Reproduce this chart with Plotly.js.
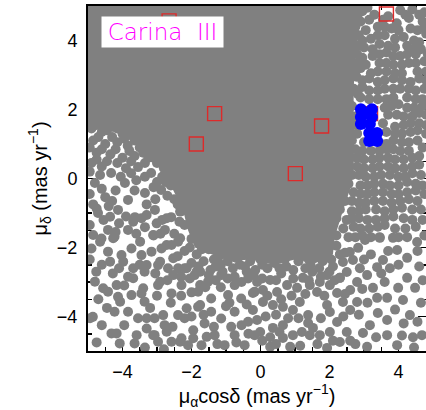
<!DOCTYPE html>
<html>
<head>
<meta charset="utf-8">
<script src="https://cdn.plot.ly/plotly-3.0.1.min.js"></script>
<style>html,body{margin:0;padding:0;background:#fff}</style>
</head>
<body>
<div id="chart" style="width:426px;height:410px"></div>
<script>
// Proper-motion plane around Carina III (mas/yr)

// Outline of the saturated field-star core, where markers overlap completely
const coreX = [-5.2, 3.0, 2.95, 2.85, 2.75, 2.7, 2.7, 2.72, 2.7, 2.6, 2.4, 2.15, 2.1, 1.6, 1.0, 0.4, -0.3, -0.9, -1.4, -1.9, -2.1, -2.25, -2.6, -3.0, -3.5, -4.2, -5.2];
const coreY = [5.2, 5.2, 4.7, 4.3, 3.45, 2.6, 2.0, 1.4, 0.25, -0.3, -0.9, -1.7, -2.2, -2.45, -2.35, -2.5, -2.35, -2.4, -2.2, -2.0, -1.5, -0.9, -0.2, 0.4, 0.95, 1.35, 1.5];

// Field stars east of the core
const fieldEast = [
  [2.95,4.85],[3.3,4.75],[4.05,4.88],[4.4,4.9],[4.75,4.82],
  [2.9,4.55],[3.15,4.6],[3.55,4.6],[3.95,4.5],[4.3,4.65],[4.7,4.55],
  [3.05,4.3],[3.4,4.4],[3.8,4.35],[4.55,4.3],
  [2.85,4.15],[3.2,4.05],[3.6,4.15],[4.15,4.1],[4.45,4.0],[4.8,4.2],
  [3.0,3.8],[3.45,3.9],[3.9,3.8],[4.25,3.85],[4.65,3.75],
  [2.8,3.6],[3.25,3.55],[3.65,3.65],[4.05,3.55],[4.5,3.6],
  [3.05,3.3],[3.45,3.35],[3.85,3.3],[4.3,3.35],[4.75,3.4],
  [2.75,3.1],[3.2,3.05],[3.65,3.1],[4.1,3.05],[4.55,3.1],
  [2.95,2.85],[3.4,2.8],[3.85,2.9],[4.35,2.8],[4.8,2.85],
  [2.7,2.6],[3.15,2.55],[3.6,2.6],[4.05,2.6],[4.5,2.55],
  [2.9,2.35],[3.4,2.3],[3.85,2.35],[4.25,2.35],[4.7,2.3],
  [2.65,2.1],[3.6,2.05],[4.0,2.15],[4.45,2.05],
  [2.75,1.8],[3.7,1.85],[4.15,1.8],[4.6,1.9],
  [2.7,1.55],[3.55,1.6],[3.9,1.5],[4.35,1.6],[4.8,1.55],
  [2.8,1.3],[3.65,1.35],[4.1,1.3],[4.55,1.4],
  [2.65,1.1],[3.0,1.05],[3.5,1.0],[3.85,1.1],[4.3,1.05],
  [2.75,0.85],[3.2,0.8],[3.65,0.85],[4.05,0.8],[4.7,0.9],
  [2.6,0.6],[3.0,0.55],[3.45,0.6],[3.9,0.55],[4.4,0.6],
  [2.8,0.35],[3.25,0.3],[3.7,0.35],[4.15,0.3],[4.6,0.4],
  [2.65,0.1],[3.05,0.05],[3.5,0.1],[4.0,0.05],[4.4,0.15],
  [2.55,-0.15],[2.9,-0.2],[3.3,-0.15],[3.75,-0.2],[4.25,-0.1],[4.7,-0.2],
  [2.7,-0.4],[3.1,-0.45],[3.55,-0.4],[4.0,-0.45],[4.5,-0.35],
  [2.45,-0.65],[2.85,-0.7],[3.3,-0.65],[3.8,-0.7],[4.3,-0.6],
  [2.3,-0.9],[2.65,-0.95],[3.05,-0.9],[3.6,-0.95],[4.1,-0.85],[4.65,-0.9],
  [2.2,-1.15],[2.5,-1.2],[2.85,-1.15],[3.35,-1.2],[3.85,-1.1],[4.4,-1.2],
  [2.05,-1.4],[2.4,-1.45],[2.7,-1.4],[3.15,-1.45],[3.6,-1.35],[4.2,-1.45],
  [2.2,-1.65],[2.55,-1.7],[2.95,-1.65],[3.45,-1.7],[3.84,-1.72],[4.25,-1.7],[4.54,-1.84],
  [3.1,4.95],[3.7,4.7],[4.2,4.75],[4.6,4.75],[2.75,4.4],[3.6,4.4],[4.0,4.3],[4.35,4.35],[4.75,4.4],
  [3.4,4.15],[3.9,4.05],[2.95,4.0],[4.6,3.95],[3.25,3.75],[3.7,3.85],[4.45,3.75],[4.85,3.6],
  [2.95,3.5],[3.45,3.6],[3.85,3.55],[4.25,3.6],[3.65,3.35],[4.1,3.3],[4.5,3.35],[2.9,3.2],
  [3.4,3.1],[3.9,3.05],[4.8,3.1],[3.15,2.9],[3.6,2.85],[4.1,2.85],[4.6,2.9],[2.95,2.65],
  [3.4,2.55],[3.85,2.6],[4.3,2.6],[4.75,2.6],[3.15,2.3],[3.65,2.3],[4.5,2.3],[3.8,2.1],
  [4.25,2.05],[4.7,2.1],[3.95,1.85],[4.4,1.8],[4.8,1.85],[4.15,1.55],[4.6,1.6],[3.9,1.3],
  [4.35,1.35],[4.8,1.3],[3.65,1.0],[4.1,1.05],[4.55,1.1],[2.95,0.8],[3.45,0.8],[3.85,0.85],
  [4.3,0.8],[2.8,0.6],[3.25,0.55],[3.7,0.6],[4.15,0.55],[4.6,0.65],[3.0,0.3],[3.45,0.35],
  [3.9,0.3],[4.4,0.35],[2.85,0.1],[3.3,0.05],[3.75,0.1],[4.2,0.05],[4.65,0.1],[3.1,-0.2],
  [3.55,-0.15],[4.0,-0.2],[4.5,-0.15],[2.9,-0.45],[3.3,-0.4],[3.8,-0.45],[4.25,-0.4],[4.75,-0.45],
  [2.65,-0.65],[3.05,-0.7],[3.55,-0.65],[4.05,-0.65],[4.55,-0.65],[2.85,-0.95],[3.35,-0.9],
  [3.85,-0.9],[4.4,-0.9],[2.65,-1.15],[3.1,-1.2],[3.6,-1.15],[4.15,-1.15],[4.7,-1.2],[2.9,-1.45],
  [3.4,-1.4],[3.9,-1.45],[4.5,-1.4],[2.75,-1.7],[3.2,-1.7],[4.0,-1.7],[4.75,-1.65],
  [2.85,3.85],[2.8,3.35],[2.78,2.95],[2.82,2.45]
];

// Field stars west of the core
const fieldWest = [
  [-4.9,1.45],[-4.6,1.35],[-4.3,1.5],[-4.0,1.3],[-3.7,1.45],[-3.4,1.25],[-4.85,1.1],[-4.5,1.0],
  [-4.15,1.05],[-3.85,0.95],[-3.5,0.9],[-3.2,0.85],[-4.75,0.75],[-4.35,0.7],[-4.0,0.6],[-3.65,0.65],
  [-3.25,0.6],[-3.0,0.45],[-2.95,0.7],
  [-4.9,0.45],[-4.6,0.35],[-4.33,0.16],[-3.9,0.3],[-3.55,0.33],[-3.17,0.16],[-2.85,0.05],[-2.7,0.25],
  [-2.5,0.1],[-4.8,-0.13],[-3.93,-0.13],[-3.6,-0.05],[-2.6,-0.2],[-4.5,-0.54],[-4.2,-0.35],[-3.84,-0.62],
  [-3.35,-0.42],[-2.88,-0.33],[-2.5,-0.6],[-2.3,-0.45],[-2.15,-0.7],
  [-4.71,-1.0],[-4.13,-0.91],[-3.64,-1.12],[-3.06,-0.91],[-2.59,-1.12],[-4.42,-1.49],[-3.84,-1.49],
  [-3.35,-1.41],[-2.77,-1.49],[-4.85,-0.75],[-4.4,-0.8],[-3.3,-0.75],[-2.3,-0.95],[-2.2,-1.35],
  [-2.5,-1.6],[-4.95,-1.35],[-3.1,-1.65],[-4.1,-1.3],[-1.95,-1.1],[-1.85,-1.45],[-2.0,-1.75],[-1.7,-1.95],
  [-4.75,-0.87],[-4.36,-1.11],[-3.69,-1.25],[-3.3,-1.06],[-3.01,-1.3],[-2.72,-1.15],[-2.33,-0.96],
  [-4.75,1.55],[-4.45,1.4],[-4.15,1.45],[-3.85,1.3],[-4.7,1.2],[-4.3,1.2],[-3.95,1.15],[-3.65,1.1],
  [-3.3,1.0],[-4.95,0.9],[-4.6,0.85],[-4.2,0.85],[-3.8,0.8],[-3.4,0.75],[-3.1,0.6],[-4.75,0.55],
  [-4.45,0.5],[-4.15,0.45],[-3.75,0.5],[-3.35,0.45],[-2.8,0.3],[-4.95,0.2],[-4.65,0.1],[-4.05,0.05],
  [-3.75,0.15],[-3.35,0.05],[-3.0,-0.1],[-2.75,-0.1],[-4.95,-0.45],[-4.6,-0.3],[-4.3,-0.65],
  [-3.65,-0.35],[-3.1,-0.25],[-3.05,-0.6],[-2.7,-0.5],[-2.4,-0.75],[-4.55,-1.2],[-3.9,-1.1],
  [-3.45,-1.15],[-2.85,-1.2],[-2.35,-1.25],[-4.2,-1.55],[-3.6,-1.6],[-2.9,-1.6]
];

// Field stars south of the core
const fieldSouth = [
  [-4.61,-1.74],[-4.23,-1.69],[-4.9,-2.03],[-4.42,-2.12],[-4.03,-2.22],[-3.74,-2.03],[-3.45,-2.22],
  [-3.16,-2.12],[-2.87,-2.03],[-2.58,-1.93],[-2.39,-1.83],[-4.76,-2.7],[-4.28,-2.75],[-3.84,-2.85],
  [-3.36,-2.7],[-2.97,-2.51],[-2.68,-2.6],[-2.39,-2.6],[-4.42,-3.28],[-4.13,-3.43],[-3.74,-3.38],
  [-3.45,-3.33],[-3.36,-3.57],[-2.97,-3.09],[-2.58,-3.33],[-2.29,-3.09],[-4.86,-4.01],[-4.23,-3.86],
  [-3.84,-3.86],[-3.55,-4.05],[-3.07,-4.05],[-2.78,-4.25],[-2.39,-3.96],[-2.2,-4.05],[-4.32,-4.49],
  [-4.08,-4.78],[-3.65,-4.78],[-3.07,-4.54],[-2.97,-4.73],[-2.58,-4.73],[-2.29,-4.63],[-2.1,-4.83],
  [-4.85,-1.64],[-4.65,-1.83],[-4.27,-1.73],[-3.49,-1.83],[-3.11,-1.64],[-2.72,-1.93],[-2.33,-1.73],
  [-4.36,-2.41],[-3.98,-2.41],[-3.69,-2.6],[-3.3,-2.51],[-2.91,-2.41],[-2.53,-2.31],[-2.14,-2.6],
  [-1.75,-2.7],[-4.8,-2.99],[-4.56,-3.18],[-4.17,-3.09],[-3.69,-2.89],[-3.4,-3.18],[-2.91,-2.99],
  [-2.53,-2.8],[-1.75,-3.09],[-4.07,-3.57],[-4.94,-4.05],[-3.3,-4.05],[-2.82,-3.96],[-2.14,-3.76],
  [-1.75,-3.67],[-4.17,-4.49],[-3.59,-4.54],[-3.11,-4.54],[-2.72,-4.44],[-2.33,-4.73],[-1.95,-4.63],
  [-1.56,-4.59],
  [-4.95,-2.35],[-4.6,-2.5],[-4.1,-2.6],[-3.5,-2.5],[-3.05,-2.75],[-2.7,-2.95],[-2.3,-3.4],[-3.0,-3.4],
  [-3.95,-3.1],[-4.7,-3.5],[-4.45,-3.75],[-3.2,-3.75],[-2.6,-3.6],[-4.6,-4.25],[-3.95,-4.25],
  [-3.3,-4.35],[-2.55,-4.3],[-4.75,-4.75],[-3.35,-4.9],[-2.8,-4.95],
  [-2.2,-2.1],[-1.85,-2.2],[-1.5,-2.05],[-1.2,-2.25],[-0.85,-2.1],[-0.5,-2.2],[-0.15,-2.15],[0.2,-2.25],
  [0.55,-2.2],[0.9,-2.1],[1.25,-2.2],[1.6,-2.05],[1.9,-2.25],[2.2,-1.95],[2.45,-2.15],
  [-2.0,-2.45],[-1.65,-2.4],[-1.3,-2.55],[-0.95,-2.4],[-0.6,-2.5],[-0.3,-2.4],[0.05,-2.5],[0.4,-2.45],
  [0.75,-2.55],[1.1,-2.4],[1.45,-2.5],[1.8,-2.4],[2.1,-2.55],[2.39,-2.42],[2.68,-2.36],
  [-2.3,-2.85],[-1.85,-2.7],[-1.5,-2.8],[-1.1,-2.7],[-0.75,-2.85],[-0.4,-2.7],[0.28,-2.94],[0.6,-2.75],
  [1.23,-2.88],[1.5,-2.7],[1.93,-2.8],[2.3,-2.88],[2.5,-2.71],[2.59,-2.13],[2.83,-2.01],[3.03,-1.78],
  [-2.4,-2.25],[-2.05,-2.0],[-1.7,-2.05],[-1.35,-2.35],[-1.05,-2.05],[-0.7,-2.3],[-0.35,-2.05],[0.0,-2.35],
  [0.35,-2.1],[0.7,-2.35],[1.05,-2.2],[1.4,-2.35],[1.75,-2.2],[2.05,-2.35],[2.3,-2.2],[-2.2,-2.6],
  [-1.8,-2.55],[-1.45,-2.65],[-1.15,-2.5],[-0.8,-2.6],[-0.45,-2.55],[-0.15,-2.65],[0.2,-2.6],[0.55,-2.6],
  [0.95,-2.65],[1.3,-2.6],[1.7,-2.6],[2.0,-2.7],[-2.05,-2.9],[-1.3,-2.95],[-0.95,-2.9],[-0.55,-3.0],
  [-0.2,-2.8],[0.05,-2.9],[0.45,-2.95],[0.95,-2.9],[1.4,-2.95],[1.75,-2.85],[2.15,-2.95],
  [-1.91,-2.8],[-1.52,-2.99],[-1.14,-2.8],[-0.75,-3.09],[-0.36,-2.9],[-1.81,-3.28],[-1.43,-3.48],
  [-0.94,-3.38],[-0.56,-3.48],[-0.17,-3.28],
  [-1.81,-3.72],[-1.43,-3.86],[-1.14,-4.06],[-0.75,-3.86],[-0.36,-4.15],[-0.17,-4.54],[-0.75,-4.54],
  [-1.33,-4.54],[-1.71,-4.83],[-1.04,-4.83],[-0.46,-4.83],[-1.62,-4.2],
  [-2.0,-3.3],[-1.6,-3.15],[-1.15,-3.15],[-0.9,-3.6],[-0.4,-3.65],[0.2,-3.4],[0.6,-3.5],[0.9,-3.4],
  [1.3,-3.35],[1.85,-3.4],[2.45,-3.35],[-2.0,-4.0],[-1.65,-3.95],[-1.0,-3.7],[-0.55,-4.25],[0.15,-4.0],
  [0.45,-3.95],[0.8,-4.05],[1.1,-4.05],[1.75,-4.05],[2.4,-4.0],[-1.95,-4.4],[-1.35,-4.3],[-0.85,-4.3],
  [-0.35,-4.5],[0.05,-4.7],[0.55,-4.45],[1.2,-4.45],[1.15,-4.85],[1.65,-4.8],[2.1,-4.7],[2.6,-4.7],
  [-1.25,-4.8],[-0.7,-4.75],[0.45,-4.8],
  [2.8,-3.0],[2.6,-3.23],[2.8,-3.58],[2.6,-3.81],[2.39,-3.58],[2.22,-3.32],[1.93,-3.67],[2.01,-3.87],
  [2.22,-4.16],[2.5,-4.45],[2.3,-4.74],[2.01,-4.45],[1.72,-4.54],[1.52,-4.33],[1.38,-4.19],[1.43,-4.54],
  [1.93,-4.91],[0.86,-4.88],[0.65,-4.62],[0.94,-4.54],[0.28,-4.88],[0.28,-4.6],[-0.01,-4.45],[0.36,-4.33],
  [0.65,-4.25],[-0.1,-4.1],[-0.22,-3.81],[0.07,-3.58],[0.36,-3.67],[0.65,-3.72],[0.94,-3.81],[1.14,-3.58],
  [1.38,-3.96],[1.64,-3.29],[1.43,-3.09],[1.06,-3.17],[0.77,-3.09],[0.48,-3.29],[0.07,-3.23],[-0.22,-3.32],
  [-0.1,-3.0],[1.72,-3.0],[2.01,-3.09],[2.3,-2.88],
  [3.96,-2.07],[4.25,-2.3],[3.55,-2.36],[3.75,-2.6],[3.38,-2.57],[3.09,-2.8],[2.88,-2.6],[3.26,-3.17],
  [3.38,-3.46],[3.67,-3.46],[4.13,-3.52],[4.48,-3.17],[4.25,-2.88],[4.33,-3.96],[3.99,-3.17],[3.67,-4.1],
  [3.17,-4.25],[2.97,-4.48],[3.67,-4.54],[4.42,-4.6],[4.68,-4.54],[3.96,-4.83],[3.09,-4.88],[3.46,-1.72],
  [3.2,-2.2],[3.7,-2.1],[4.55,-2.1],[3.0,-2.35],[3.5,-2.75],[4.0,-2.5],[4.6,-2.55],[2.95,-3.2],
  [3.6,-3.0],[4.7,-2.95],[3.1,-3.6],[3.9,-3.8],[4.65,-3.6],[2.85,-3.95],[3.4,-3.9],[4.15,-4.2],
  [4.55,-4.15],[3.35,-4.6],[4.1,-4.55],[2.75,-4.8],[4.45,-4.9]
];

// Candidate members (open squares)
const candX = [-2.65, -1.33, -1.86, 1.01, 1.77, 3.65, 3.19];
const candY = [4.57, 1.88, 1.00, 0.14, 1.52, 4.77, 1.88];

// Spectroscopic members
const memberX = [2.91, 3.23, 2.91, 3.23, 3.07, 2.91, 3.17, 3.15, 3.38, 3.15, 3.38];
const memberY = [2.01, 2.01, 1.78, 1.78, 1.9, 1.58, 1.58, 1.32, 1.32, 1.09, 1.09];

// Axis ticks
const majorTicks = [-4, -2, 0, 2, 4];

const field = fieldEast.concat(fieldWest, fieldSouth);
const GREY = '#808080';

const traces = [
  {
    x: coreX, y: coreY, mode: 'lines', fill: 'toself',
    fillcolor: GREY, line: {width: 0, color: GREY},
    hoverinfo: 'skip', showlegend: false
  },
  {
    x: field.map(p => p[0]), y: field.map(p => p[1]),
    mode: 'markers', type: 'scatter',
    marker: {size: 10, color: GREY, line: {width: 0}},
    showlegend: false
  },
  {
    x: candX, y: candY, mode: 'markers', type: 'scatter',
    marker: {symbol: 'square-open', size: 14, color: '#dd2a2a', line: {width: 1.4, color: '#dd2a2a'}},
    showlegend: false
  },
  {
    x: memberX, y: memberY, mode: 'markers', type: 'scatter',
    marker: {size: 12, color: '#0000ff', line: {width: 0}},
    showlegend: false
  }
];

const tickFont = {family: 'Liberation Sans, Arial, sans-serif', size: 18, color: '#000'};
const titleFont = {family: 'Liberation Sans, Arial, sans-serif', size: 20, color: '#000'};

const axisCommon = {
  showgrid: false, zeroline: false,
  showline: true, linecolor: '#000', linewidth: 2, mirror: 'ticks',
  ticks: 'inside', ticklen: 8, tickwidth: 1.5, tickcolor: '#000',
  tickvals: majorTicks, ticktext: majorTicks.map(v => (v < 0 ? '\u2212' : '') + Math.abs(v)),
  minor: {dtick: 0.5, tick0: 0, ticks: 'inside', ticklen: 4, tickwidth: 1.5, tickcolor: '#000'},
  tickfont: tickFont, layer: 'below traces', fixedrange: true
};

const layout = {
  width: 426, height: 410,
  margin: {l: 88, r: 0, t: 6, b: 59},
  paper_bgcolor: '#fff', plot_bgcolor: '#fff',
  showlegend: false,
  xaxis: Object.assign({}, axisCommon, {
    range: [-5, 4.797],
    ticklabelstandoff: 3,
    title: {text: '\u03bc<sub>\u03b1</sub>cos\u03b4 (mas yr<sup>\u22121</sup>)', font: titleFont, standoff: 0}
  }),
  yaxis: Object.assign({}, axisCommon, {
    range: [-5, 5],
    ticklabelstandoff: 5,
    title: {text: '\u03bc<sub>\u03b4</sub> (mas yr<sup>\u22121</sup>)', font: titleFont, standoff: 4}
  }),
  annotations: [{
    xref: 'x', yref: 'y', x: -4.62, y: 4.7, xanchor: 'left', yanchor: 'top',
    text: 'Carina\u00a0 III', showarrow: false,
    font: {family: 'DejaVu Sans, sans-serif', size: 23, color: '#ff00ff', weight: 200},
    bgcolor: '#ffffff', borderpad: 3, width: 115, height: 24
  }]
};

Plotly.newPlot('chart', traces, layout, {displayModeBar: false, staticPlot: true});
</script>
</body>
</html>
